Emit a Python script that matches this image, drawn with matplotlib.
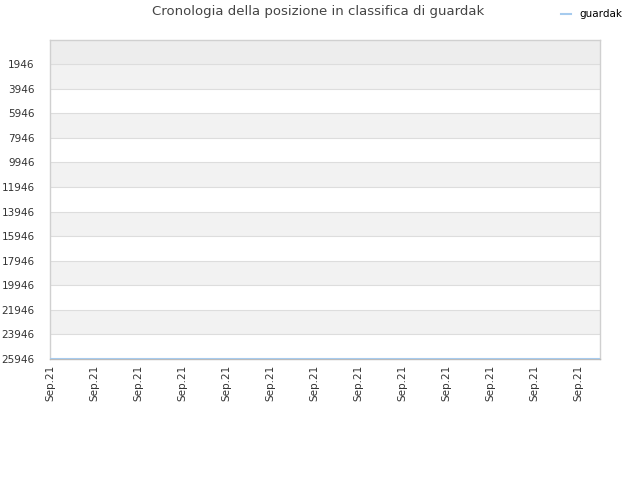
import matplotlib
matplotlib.use("Agg")
import matplotlib.pyplot as plt
import numpy as np

series_name = "guardak"
x_labels = ["Sep.21"] * 26
positions = [25946] * 26
y_ticks = [1946, 3946, 5946, 7946, 9946, 11946, 13946, 15946, 17946, 19946, 21946, 23946, 25946]

fig = plt.figure(figsize=(6.4, 4.8), dpi=100)
ax = fig.add_axes([50/640, 1-359/480, 550/640, 319/480])

x = np.arange(len(positions))
ax.set_xlim(0, len(positions) - 1)
ax.set_ylim(25946, -10)

# bands
ax.axhspan(-10, y_ticks[0], color="#ededed", zorder=0, lw=0)
for i in range(len(y_ticks) - 1):
    if i % 2 == 0:
        ax.axhspan(y_ticks[i], y_ticks[i+1], color="#f2f2f2", zorder=0, lw=0)
for t in y_ticks:
    ax.axhline(t, color="#dddddd", lw=0.8, zorder=1)

ax.plot(x, positions, color="#a6cbee", lw=1.5, zorder=3, label=series_name)

ax.set_yticks(y_ticks)
ax.set_yticklabels([str(t) for t in y_ticks])
ax.set_xticks(x[::2])
ax.set_xticklabels(x_labels[::2], rotation=90)
ax.tick_params(axis="both", length=0, labelsize=7.5, colors="#333333")
ax.tick_params(axis="y", pad=11)
ax.tick_params(axis="x", pad=4)

for s in ax.spines.values():
    s.set_color("#d0d0d0")
    s.set_linewidth(1)
ax.spines["bottom"].set_color("#bbbbbb")

fig.text(318/640, 1-12/480, "Cronologia della posizione in classifica di guardak",
         ha="center", va="center", fontsize=9.5, color="#444444")
fig.legend(loc="upper right", bbox_to_anchor=(632/640, 1-0/480), frameon=False,
           fontsize=7.5, handlelength=1.0, handletextpad=0.8)

fig.savefig("out.png", dpi=100)
